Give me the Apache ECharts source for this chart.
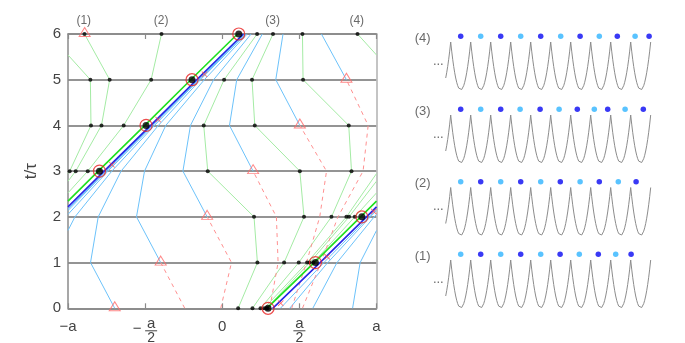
<!DOCTYPE html>
<html><head><meta charset="utf-8">
<script src="https://cdn.jsdelivr.net/npm/echarts@6/dist/echarts.min.js"></script>
<style>html,body{margin:0;padding:0;background:#fff}#c{width:685px;height:343px}</style>
</head><body><div id="c"></div>
<script>
// ================= DATA =================
const timeTicks = [0,1,2,3,4,5,6];
const xTickValues = [-1,-0.5,0,0.5,1];
const topLabels = ['(1)','(2)','(3)','(4)'];
const topLabelX = [-0.898,-0.396,0.327,0.872];

// front particle, unwrapped x (units of a) at t = 0..6
const frontX      = [0.297,0.604,0.905,1.204,1.506,1.804,2.107];
const frontGreenX = [0.289,0.596,0.897,1.196,1.498,1.796,2.099];
const frontBlueX  = [0.327,0.634,0.935,1.234,1.536,1.834,2.137];

// light-green trajectories, x at t = 0..6 (unwrapped)
const greenTraj = [
  [0.103,0.228,0.206,-0.094,-0.120,0.012,0.226],
  [0.196,0.401,0.530,0.503,0.211,0.193,0.329],
  [0.248,0.496,0.708,0.838,0.820,0.524,0.520],
  [0.271,0.550,0.805,1.011,1.149,1.145,0.877],
  [0.286,0.567,0.822,1.050,1.217,1.270,1.107],
  [0.293,0.590,0.859,1.128,1.361,1.539,1.606]
];

// light-blue trajectories, x at t = 0..6 (null = not drawn)
const blueTraj = [
  [0.377,0.659,0.950,1.244,1.543,1.840,2.142],
  [0.437,0.684,0.960,1.249,1.546,1.841,2.144],
  [0.587,0.744,0.985,1.259,1.551,1.844,2.144],
  [0.845,0.894,1.045,1.284,1.561,1.849,2.152],
  [-0.697,-0.854,-0.804,-0.656,-0.414,-0.141,0.152],
  [null,-0.399,-0.556,-0.504,-0.366,-0.116,0.162],
  [null,null,-0.098,-0.255,-0.206,-0.056,0.187],
  [null,null,null,0.200,0.047,0.094,0.260],
  [null,null,null,null,0.503,0.347,0.394],
  [null,null,null,null,null,0.805,0.643]
];

// red dashed trajectories, x at t = 0..6 (null = not drawn)
const redTraj = [
  [-0.243,-0.399,null,null,null,null,null],
  [-0.010,0.060,-0.098,null,null,null,null],
  [0.308,0.362,0.351,0.200,null,null,null],
  [0.450,0.546,0.632,0.676,0.503,null,null],
  [0.520,0.640,0.750,0.913,0.946,0.805,null]
];

// triangles [x, t]
const triangles = [[-0.697,0],[-0.399,1],[-0.098,2],[0.200,3],[0.503,4],[0.805,5],[-0.892,6]];
// small red crosses [x, t]
const redCrosses = [[0.379,0.11],[0.680,1.13],[0.982,2.12],[-0.715,3.14],[-0.416,4.13],[-0.115,5.12]];

// right panels: labels, dot positions (lattice units), first-dot colour
const panelNames = ['(4)','(3)','(2)','(1)'];
const panelDots = [
  [1,2,3,4,5,6,6.97,7.93,8.83,9.72,10.42],
  [1,2,3,3.97,4.97,5.92,6.83,7.68,8.35,9.22,10.13],
  [1,2,3,4,5,5.98,6.97,7.93,8.88,9.77],
  [1,2,3,4,5,5.97,6.93,7.88,8.75,9.52]
];
const panelFirstDark = [true,true,false,false];
// one well of the periodic potential: [offset, height]
const wellShape = [[-0.5,1],[-0.45,0.81],[-0.4,0.64],[-0.35,0.49],[-0.3,0.36],[-0.25,0.25],[-0.2,0.16],[-0.15,0.09],[-0.1,0.04],[-0.05,0.01],[0,0],
  [0.05,0.01],[0.1,0.04],[0.15,0.09],[0.2,0.16],[0.25,0.25],[0.3,0.36],[0.35,0.49],[0.4,0.64],[0.45,0.81],[0.5,1]];
const wellRange = [0.25, 10.5];

// ================= HELPERS =================
const cell = x => Math.floor((x + 1) / 2);
const wrapX = x => x - 2 * cell(x);
function wrapPath(pts) {
  const out = []; let cur = [];
  for (let i = 0; i < pts.length; i++) {
    const [x, t] = pts[i];
    if (i === 0) { cur.push([wrapX(x), t]); continue; }
    const [x0, t0] = pts[i - 1];
    let c0 = cell(x0); const c1 = cell(x);
    while (c0 !== c1) {
      const up = c1 > c0;
      const b = up ? 2 * c0 + 1 : 2 * c0 - 1;
      const tb = t0 + (t - t0) * (b - x0) / (x - x0);
      cur.push([b - 2 * c0, tb]);
      out.push(cur);
      c0 += up ? 1 : -1;
      cur = [[b - 2 * c0, tb]];
    }
    cur.push([x - 2 * c1, t]);
  }
  out.push(cur);
  return out.filter(p => p.length > 1);
}
function trajToPts(arr) {
  const pts = [];
  arr.forEach((x, i) => { if (x !== null) pts.push([x, timeTicks[i]]); });
  return pts;
}
function linesData(list) {
  const d = [];
  list.forEach(arr => wrapPath(trajToPts(arr)).forEach(c => d.push({coords: c})));
  return d;
}

const FONT = 'Liberation Sans';
const TXT = '#444';

const greenDots = [];
greenTraj.forEach(arr => arr.forEach((x, i) => greenDots.push([wrapX(x), timeTicks[i]])));
const frontDots = frontX.map((x, i) => [wrapX(x), timeTicks[i]]);

const series = [
  {type:'lines', coordinateSystem:'cartesian2d', xAxisIndex:0, yAxisIndex:0, polyline:true, silent:true,
   data: linesData(greenTraj), lineStyle:{color:'#a4eba4', width:1, opacity:1}},
  {type:'lines', coordinateSystem:'cartesian2d', xAxisIndex:0, yAxisIndex:0, polyline:true, silent:true,
   data: linesData(blueTraj), lineStyle:{color:'#6cc2fa', width:1, opacity:1}},
  {type:'lines', coordinateSystem:'cartesian2d', xAxisIndex:0, yAxisIndex:0, polyline:true, silent:true,
   data: linesData(redTraj), lineStyle:{color:'#ff9090', width:1, type:[4,4], opacity:1}},
  {type:'lines', coordinateSystem:'cartesian2d', xAxisIndex:0, yAxisIndex:0, polyline:true, silent:true,
   data: linesData([frontGreenX]), lineStyle:{color:'#1ee01e', width:1.6, opacity:1}},
  {type:'lines', coordinateSystem:'cartesian2d', xAxisIndex:0, yAxisIndex:0, polyline:true, silent:true,
   data: linesData([frontBlueX]), lineStyle:{color:'#2626e6', width:1.6, opacity:1}},
  {type:'scatter', xAxisIndex:0, yAxisIndex:0, clip:false, silent:true, symbol:'triangle', symbolSize:[11,9],
   data: triangles.map(p => [wrapX(p[0]), p[1]]), symbolOffset:[0,-2],
   itemStyle:{color:'rgba(0,0,0,0)', borderColor:'#ff6a6a', borderWidth:1}},
  {type:'scatter', xAxisIndex:0, yAxisIndex:0, clip:false, silent:true,
   symbol:'path://M1,0 L5,4 L9,0 L10,1 L6,5 L10,9 L9,10 L5,6 L1,10 L0,9 L4,5 L0,1Z', symbolSize:6,
   data: redCrosses.map(p => [wrapX(p[0]), p[1]]), itemStyle:{color:'#ff4a4a', opacity:0.85}},
  {type:'scatter', xAxisIndex:0, yAxisIndex:0, clip:false, silent:true, symbolSize:4,
   data: greenDots, itemStyle:{color:'#000'}},
  {type:'scatter', xAxisIndex:0, yAxisIndex:0, clip:false, silent:true, symbolSize:12,
   data: frontDots, itemStyle:{color:'rgba(0,0,0,0)', borderColor:'#e82020', borderWidth:1.2}},
  {type:'scatter', xAxisIndex:0, yAxisIndex:0, clip:false, silent:true, symbolSize:7,
   data: frontDots, itemStyle:{color:'#000'}},
  {type:'scatter', xAxisIndex:0, yAxisIndex:0, clip:false, silent:true, symbolSize:0,
   data: topLabelX.map((x, i) => ({value:[x, 6], name: topLabels[i]})),
   label:{show:true, formatter: p => p.name, position:'top', distance:7, color:TXT, fontSize:12, fontFamily:FONT}}
];

// right panels
const valleyY = [90, 163, 235.5, 308];
const unitPx = 48;
const grids = [{left:68, top:34, width:308.5, height:274.3}];
const xAxes = [
  {gridIndex:0, type:'value', min:-1, max:1, interval:0.5, position:'bottom',
   axisLine:{show:true, onZero:false, lineStyle:{color:'#8a8a8a', width:1.5}},
   axisTick:{show:true, inside:true, length:5, lineStyle:{color:'#8a8a8a', width:1.2}},
   splitLine:{show:false},
   axisLabel:{show:true, margin:11, color:TXT, fontSize:15, fontFamily:FONT,
     formatter: v => v === -1 ? '−a' : (v === 1 ? 'a' : (v === 0 ? '0' : ''))}},
  {gridIndex:0, type:'value', min:-1, max:1, interval:0.5, position:'top',
   axisLine:{show:true, onZero:false, lineStyle:{color:'#8a8a8a', width:1.5}},
   axisTick:{show:true, inside:true, length:5, lineStyle:{color:'#8a8a8a', width:1.2}},
   splitLine:{show:false}, axisLabel:{show:false}}
];
const yAxes = [
  {gridIndex:0, type:'value', min:0, max:6, interval:1, position:'left',
   name:'t/τ', nameLocation:'middle', nameGap:28, nameRotate:90,
   nameTextStyle:{color:TXT, fontSize:17, fontFamily:FONT},
   axisLine:{show:true, onZero:false, lineStyle:{color:'#8a8a8a', width:1.5}},
   axisTick:{show:false},
   splitLine:{show:true, lineStyle:{color:'#707070', width:1.5}},
   axisLabel:{show:true, margin:7, color:TXT, fontSize:15, fontFamily:FONT}},
  {gridIndex:0, type:'value', min:0, max:6, interval:1, position:'right',
   axisLine:{show:true, onZero:false, lineStyle:{color:'#b0b0b0', width:1.5}},
   axisTick:{show:false}, splitLine:{show:false}, axisLabel:{show:false}}
];

panelNames.forEach((name, i) => {
  const gi = i + 1;
  grids.push({left:400.7, width:260, top: valleyY[i] - 1.2 * unitPx, height: 1.2 * unitPx});
  xAxes.push({gridIndex:gi, type:'value', min:-2, max:11, show:false});
  yAxes.push({gridIndex:gi, type:'value', min:0, max:1.2, show:false});
  const xi = xAxes.length - 1, yi = yAxes.length - 1;
  const curve = [];
  for (let k = 0; k <= 11; k++) {
    wellShape.forEach(([d, h]) => {
      const x = k + d;
      if (x >= wellRange[0] - 1e-9 && x <= wellRange[1] + 1e-9) {
        if (!curve.length || Math.abs(curve[curve.length - 1][0] - x) > 1e-9) curve.push([x, h]);
      }
    });
  }
  series.push({type:'line', xAxisIndex:xi, yAxisIndex:yi, data:curve, showSymbol:false, silent:true,
    lineStyle:{color:'#8c8c8c', width:1}});
  series.push({type:'scatter', xAxisIndex:xi, yAxisIndex:yi, silent:true, symbolSize:5.5,
    data: panelDots[i].map((x, j) => ({value:[x, 1.12],
      itemStyle:{color: ((j % 2 === 0) === panelFirstDark[i]) ? '#0808f2' : '#2fb4ff'}}))});
  series.push({type:'scatter', xAxisIndex:xi, yAxisIndex:yi, silent:true, symbolSize:0,
    data:[{value:[-0.9, 1.08], name:name}, {value:[-0.12, 0.6], name:'...'}],
    label:{show:true, position:'inside', formatter: p => p.name, color:TXT, fontSize:13, fontFamily:FONT}});
});

const chart = echarts.init(document.getElementById('c'), null, {renderer:'canvas'});
chart.setOption({
  animation:false, backgroundColor:'#fff',
  grid:grids, xAxis:xAxes, yAxis:yAxes, series:series
});

// fraction tick labels (±a/2) placed through the axis scale
const fracTicks = xTickValues.filter(v => Math.abs(v) === 0.5);
const graphics = [];
fracTicks.forEach(v => {
  const [px] = chart.convertToPixel({xAxisIndex:0, yAxisIndex:0}, [v, 0]);
  const base = 308.3;
  const cx = v < 0 ? px + 6 : px;
  graphics.push({type:'text', x:cx, y:base + 16, style:{text:'a', fill:TXT, fontSize:15, fontFamily:FONT, textAlign:'center', textVerticalAlign:'middle'}});
  graphics.push({type:'line', shape:{x1:cx - 6, y1:base + 22.5, x2:cx + 6, y2:base + 22.5}, style:{stroke:TXT, lineWidth:1}});
  graphics.push({type:'text', x:cx, y:base + 30, style:{text:'2', fill:TXT, fontSize:14, fontFamily:FONT, textAlign:'center', textVerticalAlign:'middle'}});
  if (v < 0) graphics.push({type:'text', x:px - 8, y:base + 21, style:{text:'−', fill:TXT, fontSize:15, fontFamily:FONT, textAlign:'center', textVerticalAlign:'middle'}});
});
chart.setOption({graphic:graphics});
</script>
</body></html>
